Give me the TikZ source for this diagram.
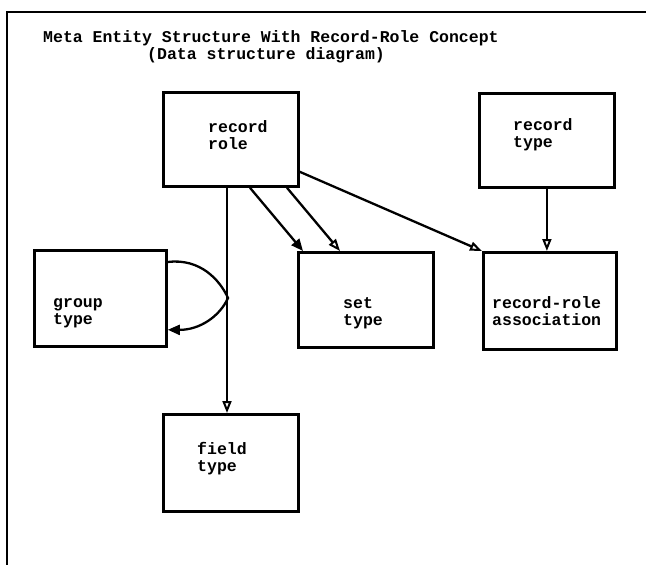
\documentclass[tikz,border=0pt]{standalone}
\usepackage{fontspec}
\setmonofont{Liberation Mono}
\usetikzlibrary{arrows.meta}
\begin{document}
\begin{tikzpicture}[x=1pt,y=-1pt,
  box/.style={draw,line width=2.8pt,anchor=north west,inner sep=0pt},
  lbl/.style={anchor=west,inner sep=0pt,align=left,font=\fontsize{16.5}{17}\selectfont\ttfamily\bfseries},
  conn/.style={line width=2.3pt},
  fullhead/.style={-{Triangle[length=12pt,width=10pt]}},
  openhead/.style={-{Triangle[open,length=12pt,width=9pt,line width=2pt]}}]
\useasboundingbox (0,0) rectangle (646,565);
% frame
\coordinate (ftl) at (7,12);
\coordinate (ftr) at (646,12);
\coordinate (fbl) at (7,565);
\draw[line width=2.6pt] (fbl) -- (ftl) -- (ftr);
% title
\node[lbl] (t1) at (43,38) {Meta Entity Structure With Record-Role Concept};
\node[lbl] (t2) at (147,55) {(Data structure diagram)};
% boxes
\node[box,minimum width=135pt,minimum height=94pt] (rr) at (162,91) {};
\node[box,minimum width=135pt,minimum height=94pt] (rt) at (478,92) {};
\node[box,minimum width=133pt,minimum height=97pt] (ra) at (482,251) {};
\node[box,minimum width=135pt,minimum height=95pt] (st) at (297,251) {};
\node[box,minimum width=132pt,minimum height=96pt] (gt) at (33,249) {};
\node[box,minimum width=135pt,minimum height=97pt] (ft) at (162,413) {};
% labels
\node[lbl] (rrl) at (208,135.5) {record\\role};
\node[lbl] (rtl) at (513,135) {record\\type};
\node[lbl] (gtl) at (53,313.5) {group\\type};
\node[lbl] (stl) at (343,313.5) {set\\type};
\node[lbl] (ral) at (492,311.5) {record-role\\association};
\node[lbl] (ftl2) at (197,459) {field\\type};
% connectors
\coordinate (vx) at (227,0);
\draw[conn,openhead] (vx |- rr.south) -- (vx |- ft.north);
\coordinate (j) at (228,298);
\draw[conn,fullhead] ([yshift=-13pt]gt.north east) .. controls (200,258) and (220,280) .. (j)
  .. controls (220,316) and (200,330) .. ([yshift=18pt]gt.south east);
\draw[conn,fullhead] ([xshift=88pt]rr.south west) -- ([xshift=6pt]st.north west);
\draw[conn,openhead] ([xshift=125pt]rr.south west) -- ([xshift=43pt]st.north west);
\draw[conn,openhead] ([yshift=16pt]rr.south east) -- (ra.north west);
\draw[conn,openhead] (rt.south) -- (rt.south |- ra.north);
\end{tikzpicture}
\end{document}
